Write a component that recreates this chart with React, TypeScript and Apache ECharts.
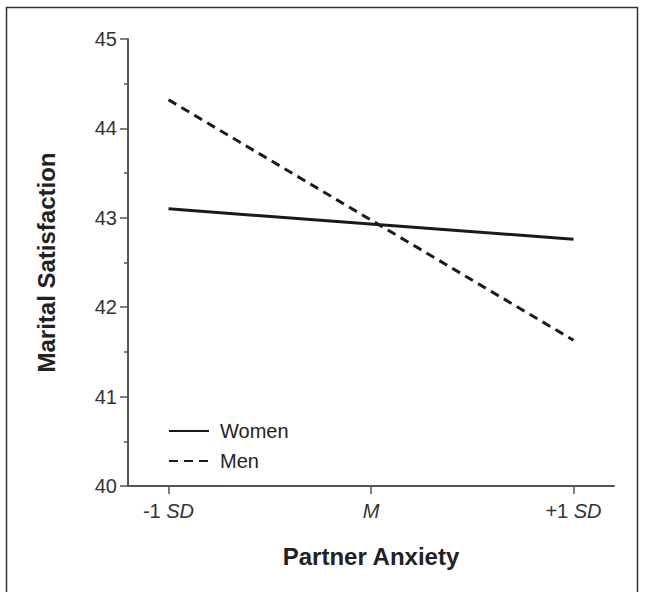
import React, { useEffect, useRef } from "react";
import * as echarts from "echarts";

const xPositions = [-1, 1];
const xTickValues = [-1, 0, 1];
const xTickLabels = ["-1 {i|SD}", "{i|M}", "+1 {i|SD}"];
const womenValues = [43.1, 42.76];
const menValues = [44.32, 41.63];
const seriesNames = ["Women", "Men"];

const FONT = "'Liberation Sans', Arial, sans-serif";

export default function App() {
  const ref = useRef<HTMLDivElement>(null);
  useEffect(() => {
    if (!ref.current) return;
    const chart = echarts.init(ref.current, null, { renderer: "svg" });
    const axisColor = "#555";
    chart.setOption({
      animation: false,
      backgroundColor: "#fff",
      textStyle: { fontFamily: FONT },
      graphic: [
        {
          type: "rect",
          shape: { x: 6.5, y: 7.5, width: 631, height: 620 },
          style: { fill: "none", stroke: "#333", lineWidth: 1.5 },
          silent: true,
          z: -1,
        },
      ],
      grid: { left: 128, top: 39, right: 31, bottom: 106 },
      legend: {
        orient: "vertical",
        left: 163,
        top: 416,
        itemWidth: 40,
        itemHeight: 18,
        itemGap: 10,
        data: seriesNames,
        itemStyle: { opacity: 0 },
        textStyle: { fontFamily: FONT, fontSize: 20, color: "#222", padding: [0, 0, 0, 6] },
      },
      xAxis: {
        type: "value",
        min: -1.2,
        max: 1.2,
        name: "Partner Anxiety",
        nameLocation: "middle",
        nameGap: 58,
        nameTextStyle: { fontFamily: FONT, fontSize: 24, fontWeight: "bold", color: "#222" },
        axisLine: { show: true, onZero: false, lineStyle: { color: axisColor, width: 2 } },
        axisTick: { show: true, length: 8, customValues: xTickValues, lineStyle: { color: axisColor, width: 1.5 } },
        axisLabel: {
          customValues: xTickValues,
          margin: 15,
          fontFamily: FONT,
          fontSize: 20,
          color: "#333",
          formatter: (v: number) => xTickLabels[xTickValues.indexOf(Math.round(v))] ?? "",
          rich: { i: { fontFamily: FONT, fontSize: 20, fontStyle: "italic", color: "#333" } },
        },
        splitLine: { show: false },
      },
      yAxis: {
        type: "value",
        min: 40,
        max: 45,
        interval: 1,
        name: "Marital Satisfaction",
        nameLocation: "middle",
        nameGap: 70,
        nameTextStyle: { fontFamily: FONT, fontSize: 24, fontWeight: "bold", color: "#222" },
        axisLine: { show: true, onZero: false, lineStyle: { color: axisColor, width: 2 } },
        axisTick: { show: true, length: 8, lineStyle: { color: axisColor, width: 1.5 } },
        minorTick: { show: true, splitNumber: 2, length: 4, lineStyle: { color: axisColor, width: 1.5 } },
        axisLabel: { margin: 11, fontFamily: FONT, fontSize: 20, color: "#333" },
        splitLine: { show: false },
      },
      series: [
        {
          name: seriesNames[0],
          type: "line",
          data: xPositions.map((x, i) => [x, womenValues[i]]),
          symbol: "none",
          lineStyle: { color: "#1a1a1a", width: 3, type: "solid" },
          itemStyle: { color: "#1a1a1a" },
        },
        {
          name: seriesNames[1],
          type: "line",
          data: xPositions.map((x, i) => [x, menValues[i]]),
          symbol: "none",
          lineStyle: { color: "#1a1a1a", width: 3, type: [9, 6] },
          itemStyle: { color: "#1a1a1a" },
        },
      ],
    });
    return () => chart.dispose();
  }, []);
  return <div ref={ref} style={{ width: 645, height: 592, position: "absolute", left: 0, top: 0 }} />;
}
